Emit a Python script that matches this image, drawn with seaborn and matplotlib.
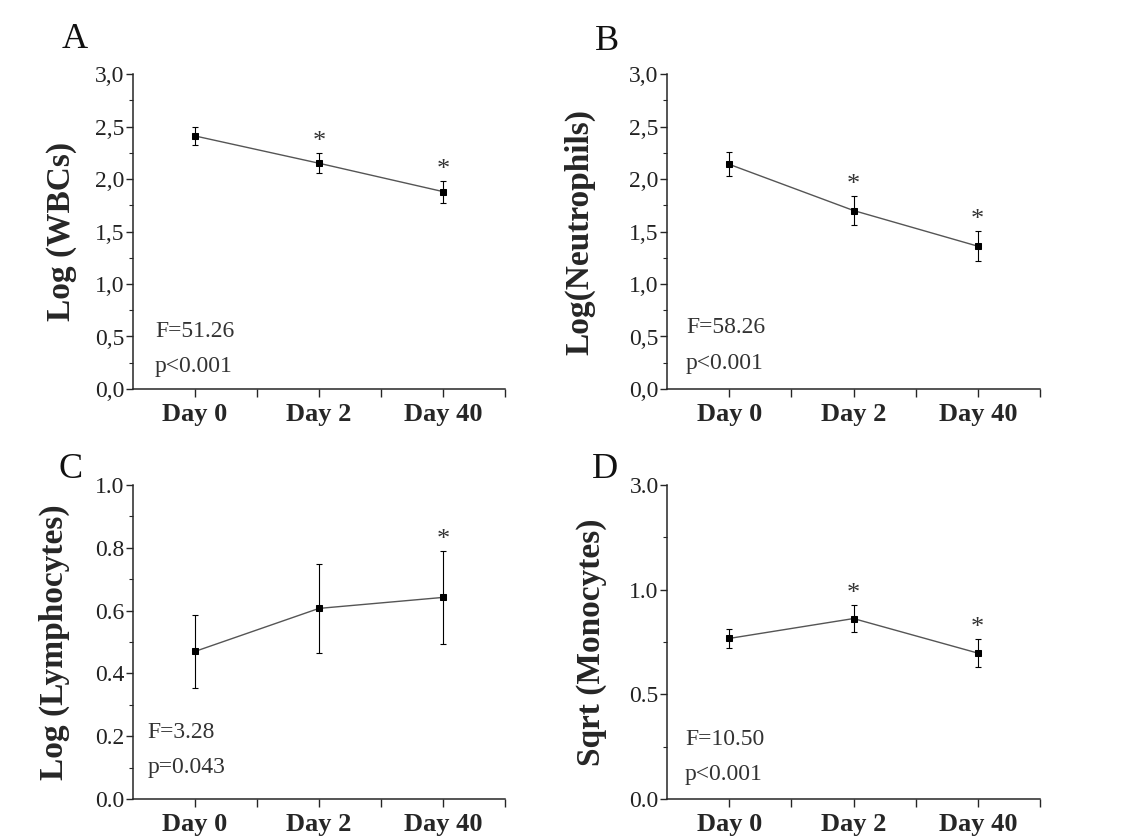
import numpy as np
import pandas as pd
import matplotlib
matplotlib.use("Agg")
import matplotlib.pyplot as plt
import seaborn as sns
from matplotlib.ticker import MultipleLocator, FixedLocator

# ==============================
# Data
# ==============================
days = ["Day 0", "Day 2", "Day 40"]

wbc_mean = [2.41, 2.15, 1.88]
wbc_err = [0.09, 0.095, 0.105]
wbc_star = [False, True, True]

neu_mean = [2.14, 1.70, 1.36]
neu_err = [0.115, 0.135, 0.145]
neu_star = [False, True, True]

lym_mean = [0.47, 0.607, 0.642]
lym_err = [0.117, 0.141, 0.147]
lym_star = [False, False, True]

mono_mean = [0.767, 0.862, 0.697]
mono_err = [0.046, 0.065, 0.067]
mono_star = [False, True, True]

# ==============================
# Style
# ==============================
sns.set_style("ticks")
plt.rcParams['font.family'] = ['Liberation Serif', 'DejaVu Serif']
plt.rcParams['axes.linewidth'] = 1.1

fig = plt.figure(figsize=(11.4, 8.38), dpi=100)

W, H = 1140, 838
panels = [
    dict(letter="A", box=(133, 74, 505, 389), mean=wbc_mean, err=wbc_err, star=wbc_star,
         ylabel="Log (WBCs)", ylim=(0, 3), major=0.5, minor=0.25, comma=True,
         labx=-0.151, stats=("F=51.26", "p<0.001"), sx=0.059, sy=(0.165, 0.054),
         lpos=(62, 48)),
    dict(letter="B", box=(667, 74, 1040, 389), mean=neu_mean, err=neu_err, star=neu_star,
         ylabel="Log(Neutrophils)", ylim=(0, 3), major=0.5, minor=0.25, comma=True,
         labx=-0.193, stats=("F=58.26", "p<0.001"), sx=0.051, sy=(0.178, 0.063),
         lpos=(595, 50)),
    dict(letter="C", box=(133, 485, 505, 799), mean=lym_mean, err=lym_err, star=lym_star,
         ylabel="Log (Lymphocytes)", ylim=(0, 1), major=0.2, minor=0.1, comma=False,
         labx=-0.169, stats=("F=3.28", "p=0.043"), sx=0.038, sy=(0.194, 0.083),
         lpos=(58, 478)),
    dict(letter="D", box=(667, 485, 1040, 799), mean=mono_mean, err=mono_err, star=mono_star,
         ylabel="Sqrt (Monocytes)", ylim=(0, 1.5), major=0.5, minor=0.25, comma=False,
         labx=-0.161, stats=("F=10.50", "p<0.001"), sx=0.048, sy=(0.172, 0.060),
         lpos=(592, 478)),
]

for p in panels:
    l, t, r, b = p["box"]
    ax = fig.add_axes([l / W, 1 - b / H, (r - l) / W, (b - t) / H])

    df = pd.DataFrame({"x": np.arange(len(days)), "mean": p["mean"], "err": p["err"]})
    sns.lineplot(data=df, x="x", y="mean", ax=ax, color="#555555", linewidth=1.0,
                 marker="s", markersize=5, markerfacecolor="black",
                 markeredgecolor="black")
    ax.errorbar(df["x"], df["mean"], yerr=df["err"], fmt="none", ecolor="black",
                elinewidth=0.8, capsize=2.5, capthick=0.8)

    # significance stars
    for xi, m, e, s in zip(df["x"], df["mean"], df["err"], p["star"]):
        if s:
            ax.annotate("*", (xi, m + e), xytext=(0, 3.5), textcoords="offset points",
                        ha="center", va="baseline", fontsize=19, color="#333333")

    ax.set_xlim(-0.5, 2.5)
    ax.set_ylim(*p["ylim"])
    ax.set_xticks(df["x"])
    ax.set_xticklabels(days, fontsize=19, fontweight="bold")
    ax.xaxis.set_minor_locator(FixedLocator([0.5, 1.5, 2.5]))

    yt = np.arange(p["ylim"][0], p["ylim"][1] + 1e-9, p["major"])
    ax.set_yticks(yt)
    if p["letter"] == "D":
        ylab = ["0.0", "0.5", "1.0", "3.0"]
    elif p["comma"]:
        ylab = [f"{v:.1f}".replace(".", ",") for v in yt]
    else:
        ylab = [f"{v:.1f}" for v in yt]
    ax.set_yticklabels(ylab, fontsize=17, color="#222222")
    ax.yaxis.set_minor_locator(MultipleLocator(p["minor"]))

    ax.tick_params(axis="y", which="major", direction="out", length=5, width=1.0, pad=1)
    ax.tick_params(axis="y", which="minor", direction="out", length=3, width=0.8)
    ax.tick_params(axis="x", which="major", direction="out", length=6, width=1.0, pad=4)
    ax.tick_params(axis="x", which="minor", direction="out", length=6, width=1.0)

    ax.set_xlabel("")
    ax.set_ylabel(p["ylabel"], fontsize=24, fontweight="bold")
    ax.yaxis.set_label_coords(p["labx"], 0.5)

    for s, y in zip(p["stats"], p["sy"]):
        ax.text(p["sx"], y, s, transform=ax.transAxes, fontsize=17,
                color="#333333", ha="left", va="baseline")

    sns.despine(ax=ax)
    ax.patch.set_alpha(0)

    fig.text(p["lpos"][0] / W, 1 - p["lpos"][1] / H, p["letter"], fontsize=26,
             ha="left", va="baseline", color="#111111")

fig.savefig("out.png", dpi=100)
